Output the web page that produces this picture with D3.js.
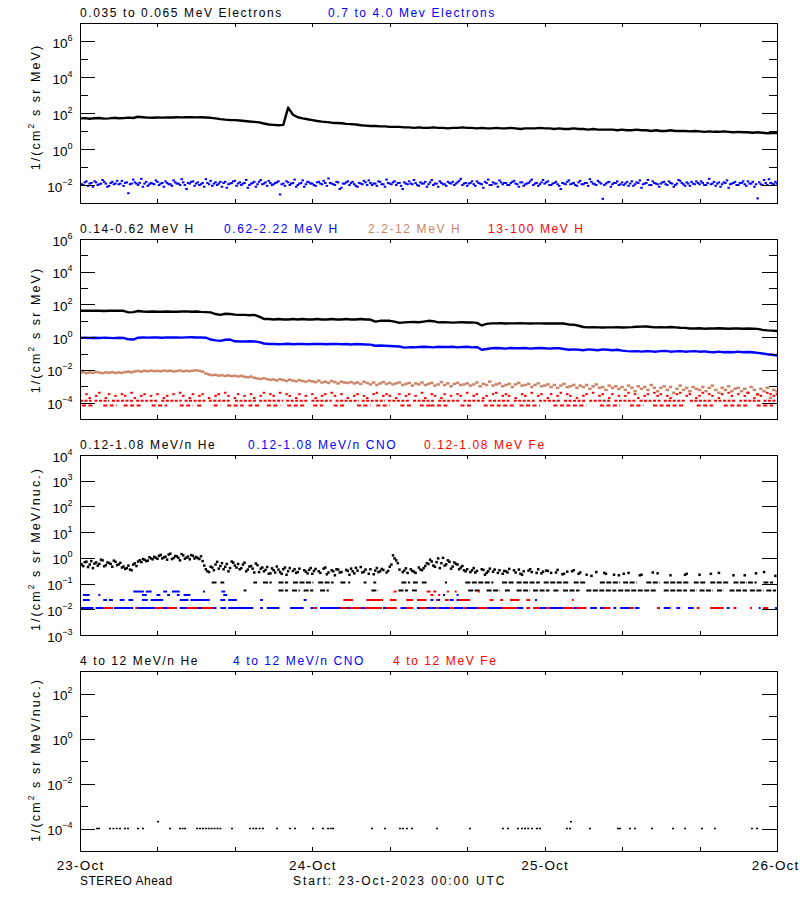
<!DOCTYPE html>
<html><head><meta charset="utf-8">
<script src="https://cdn.jsdelivr.net/npm/d3@7"></script>
<style>body{margin:0;background:#fff} text{font-family:"Liberation Sans",Arial,sans-serif}</style>
</head><body><svg id="c" width="800" height="900"></svg>
<script>
// ---------------- DATA ----------------
const dayHours = [0,24,48,72];
const dayLabels = ["23-Oct","24-Oct","25-Oct","26-Oct"];
const tickHours = [0,8,16,24,32,40,48,56,64,72];

// Panel 1: electrons (samples evenly spaced over 72 h)
const elecLow = [50,52,48,51,53,49,50,54,51,52,55,53,
62,58,55,54,56,55,57,56,58,57,59,58,57,58,56,
54,50,46,43,41,40,38,36,34,32,30,26,23,22,21,22,
200,80,58,50,45,40,36,33,31,29,28,27,25,24,23,21,20,19,19,18,18,17,17,
17,16,16,15,16,15,15,16,15,15,14,15,15,16,15,
15,14,15,14,14,15,14,14,15,14,13,14,14,14,15,14,
14,13,14,13,13,14,13,13,12,13,12,12,
12,12,11,12,11,11,12,11,11,10,11,10,10,11,
10,10,10,9.5,10,9.5,9,9.5,9,9,9.5,9,8.5,9,
8.5,8.5,8,8.5,8,7.5,7.8,7.6];
const elecHigh = [
0.013,0.010,0.016,0.012,0.008,0.014,0.011,0.019,0.012,0.009,0.015,0.012,
0.011,0.017,0.013,0.0035,0.012,0.014,0.010,0.022,0.012,0.009,0.013,0.011,
0.015,0.012,0.008,0.013,0.011,0.018,0.012,0.010,0.014,0.006,0.012,0.016,
0.012,0.010,0.013,0.021,0.011,0.009,0.014,0.012,0.008,0.015,0.011,0.013,
0.017,0.012,0.010,0.013,0.007,0.012,0.015,0.011,0.019,0.012,0.009,0.013,
0.011,0.014,0.003,0.012,0.016,0.010,0.013,0.008,0.012,0.018,0.011,0.014,
0.012,0.009,0.015,0.011,0.013,0.023,0.012,0.010,0.014,0.007,0.012,0.016,
0.013,0.011,0.008,0.012,0.017,0.010,0.013,0.012,0.009,0.015,0.011,0.020,
0.012,0.014,0.010,0.013,0.006,0.012,0.016,0.011,0.013,0.009,0.012,0.015,
0.011,0.019,0.012,0.008,0.013,0.011,0.015,0.012,0.010,0.014,0.022,0.012,
0.009,0.013,0.011,0.016,0.012,0.007,0.013,0.010,0.014,0.012,0.018,0.011,
0.013,0.010,0.015,0.012,0.008,0.014,0.011,0.013,0.020,0.012,0.009,0.014,
0.012,0.016,0.010,0.013,0.011,0.006,0.012,0.015,0.011,0.013,0.009,0.017,
0.011,0.013,0.021,0.012,0.010,0.014,0.0017,0.012,0.015,0.011,0.013,0.010,
0.014,0.012,0.009,0.016,0.011,0.013,0.007,0.012,0.019,0.010,0.013,0.011,
0.012,0.015,0.010,0.013,0.008,0.012,0.017,0.011,0.014,0.009,0.012,0.016,
0.011,0.013,0.010,0.022,0.012,0.009,0.014,0.011,0.013,0.007,0.012,0.015,
0.010,0.013,0.011,0.016,0.012,0.008,0.0018,0.011,0.019,0.010,0.013,0.011,
0.012];
// second set of electron samples, 10 min after the first set
const elecHighB = [
0.011,0.014,0.009,0.013,0.016,0.010,0.012,0.015,0.008,0.013,0.011,0.017,
0.012,0.009,0.014,0.011,0.020,0.012,0.013,0.008,0.015,0.011,0.012,0.018,
0.010,0.013,0.016,0.011,0.009,0.014,0.012,0.021,0.010,0.013,0.015,0.009,
0.014,0.011,0.008,0.013,0.017,0.012,0.010,0.015,0.013,0.007,0.012,0.016,
0.009,0.014,0.012,0.019,0.010,0.013,0.008,0.015,0.011,0.014,0.017,0.010,
0.013,0.016,0.011,0.009,0.014,0.012,0.020,0.010,0.013,0.008,0.015,0.012,
0.010,0.014,0.012,0.017,0.009,0.013,0.011,0.015,0.006,0.012,0.014,0.010,
0.015,0.009,0.013,0.011,0.014,0.018,0.010,0.012,0.016,0.011,0.008,0.013,
0.011,0.016,0.013,0.009,0.014,0.011,0.012,0.019,0.010,0.014,0.012,0.008,
0.014,0.010,0.012,0.016,0.011,0.009,0.013,0.015,0.012,0.017,0.010,0.013,
0.012,0.016,0.009,0.013,0.011,0.015,0.020,0.010,0.012,0.008,0.014,0.013,
0.010,0.013,0.017,0.011,0.014,0.009,0.012,0.016,0.010,0.013,0.011,0.019,
0.014,0.010,0.012,0.015,0.009,0.013,0.011,0.018,0.012,0.010,0.014,0.011,
0.013,0.009,0.015,0.011,0.017,0.012,0.010,0.014,0.008,0.013,0.016,0.011,
0.010,0.015,0.012,0.009,0.014,0.018,0.011,0.013,0.010,0.016,0.012,0.008,
0.014,0.011,0.016,0.012,0.010,0.019,0.013,0.009,0.012,0.015,0.011,0.013,
0.016,0.010,0.013,0.011,0.015,0.012,0.008,0.014,0.018,0.011,0.013,0.010,
0.013,0.016,0.009,0.012,0.015,0.011,0.014,0.010,0.013,0.021,0.012,0.015,
0.011];

// Panel 2: protons
const hLow = [41,42,41,42,41,40,41,42,41,41,33,34,40,
37,36,37,36,36,37,36,36,37,38,36,
37,35,34,33,26,23,27,26,24,23,23,22,23,18,13,
13,12,13,12,12,13,12,13,12,12,13,12,12,13,12,12,13,12,12,13,12,12,
9,10,10,10,9,7.5,8,8.3,8.4,8.2,9,10,9.5,
8,8.2,8,7.8,8,8.1,7.9,8,7.5,5.2,6.5,
7,7,7.1,6.9,7,7,7.1,7,6.9,7,7,6.9,7,6.8,7,6.8,
6,5.8,5,4.2,4,4.1,4,3.9,4,4,4.1,3.9,4,4.1,4.3,4.4,4.5,
4.2,4,4.1,4,4.2,4,3.8,3.7,
3.4,3.4,3.5,3.3,3.4,3.4,3.5,3.4,3.3,3.4,3.4,3.3,3.4,3.3,3.2,
2.8,2.6,2.5,2.4];
const hMid = [0.91,0.93,0.89,0.92,0.90,0.94,0.91,0.88,0.92,0.90,0.74,0.72,
0.93,0.96,0.94,0.97,0.95,0.93,0.98,0.95,0.96,0.94,0.97,0.99,0.95,0.96,0.93,
0.72,0.64,0.60,0.70,0.72,0.56,0.55,0.54,0.56,0.55,0.50,0.41,
0.38,0.39,0.37,0.38,0.40,0.37,0.38,0.39,0.37,0.38,0.39,0.38,0.37,0.38,0.39,0.37,0.38,0.36,0.38,0.37,0.36,0.35,
0.30,0.31,0.30,0.29,0.28,0.27,0.23,0.24,0.24,
0.25,0.26,0.25,0.24,0.26,0.25,0.25,0.26,0.24,0.25,0.26,0.24,0.25,0.17,0.19,
0.21,0.22,0.21,0.20,0.22,0.21,0.21,0.22,0.20,0.21,0.22,0.21,0.20,0.21,0.21,
0.19,0.17,0.18,0.17,0.16,0.18,0.17,0.16,0.18,0.17,0.16,0.17,0.15,0.14,
0.135,0.14,0.13,0.14,0.135,0.13,0.14,0.145,0.13,0.135,0.14,0.13,0.135,0.14,0.13,0.135,
0.125,0.12,0.13,0.12,0.125,0.12,0.13,0.12,0.125,0.12,
0.11,0.10,0.09,0.085,0.076];
const hHigh = [
0.0068,0.0072,0.0064,0.0070,0.0066,0.0075,0.0069,0.0063,0.0071,0.0067,0.0073,0.0065,
0.0070,0.0066,0.0074,0.0078,0.0072,0.0081,0.0086,0.0079,0.0088,0.0083,0.0090,0.0084,
0.0087,0.0082,0.0091,0.0085,0.0089,0.0080,0.0086,0.0092,0.0083,0.0088,0.0084,0.0090,
0.0095,0.0088,0.0078,0.0060,0.0052,0.0048,0.0050,0.0045,0.0047,0.0043,0.0046,0.0042,
0.0044,0.0040,0.0043,0.0038,0.0036,0.0039,0.0033,0.0030,0.0028,0.0031,0.0027,0.0025,
0.0026,0.0023,0.0027,0.0024,0.0021,0.0025,0.0022,0.0020,0.0024,0.0021,0.0019,0.0022,
0.0020,0.0018,0.0022,0.0017,0.0019,0.0016,0.0021,0.0018,0.0015,0.0019,0.0017,0.0016,
0.0018,0.0015,0.0017,0.0014,0.0019,0.0016,0.0013,0.0017,0.0012,0.0015,0.0018,0.0014,
0.0016,0.0013,0.0015,0.0017,0.0012,0.0014,0.0016,0.0011,0.0015,0.0013,0.0017,0.0012,
0.0014,0.0016,0.0011,0.0013,0.0018,0.0012,0.0015,0.0010,0.0014,0.0016,0.0012,0.0013,
0.0015,0.0011,0.0013,0.0017,0.0010,0.0014,0.0012,0.0019,0.0011,0.0013,0.0015,0.0010,
0.0012,0.0014,0.0009,0.0013,0.0016,0.0011,0.0012,0.0014,0.0009,0.0012,0.0015,0.0010,
0.0011,0.0013,0.0009,0.0012,0.0008,0.0011,0.0014,0.0009,0.0010,0.0012,0.0008,0.0011,
0.0009,0.0012,0.0007,0.0010,0.0013,0.0008,0.0009,0.0006,0.0011,0.0008,0.0010,0.0007,
0.0009,0.0006,0.0011,0.0008,0.0005,0.0010,0.0007,0.0009,0.0006,0.0012,0.0008,0.0005,
0.0008,0.0010,0.0006,0.0009,0.0004,0.0007,0.0011,0.0006,0.0008,0.0005,0.0009,0.0007,
0.0006,0.0009,0.0005,0.0008,0.0011,0.0006,0.0004,0.0008,0.0006,0.0010,0.0005,0.0007,
0.0008,0.0005,0.0007,0.0004,0.0009,0.0006,0.0003,0.0007,0.0005,0.0008,0.0002,0.0006,
0.0005];
// 13-100 MeV H: count-quantized levels
const hTopLevelA = 1.3e-4, hTopLevelB = 6.6e-5;
const hTopRowA = [[0,1.2],[1.5,3.0],[3.3,5.5],[5.8,8.0],[8.4,10.5],[10.8,13.0],[13.3,15.6],[16.0,18.2],[18.5,21.0],[21.3,23.5],[23.9,26.0],[26.4,28.8],[29.1,31.5],[31.8,34.0],[34.4,36.6],[37.0,39.3],[39.6,41.8],[42.2,44.5],[44.8,47.0],[47.4,49.6],[50.0,52.3],[52.6,54.8],[55.2,57.4],[57.8,60.0],[60.3,62.6],[63.0,65.2],[65.5,67.8],[68.1,70.3],[70.6,72]];
const hTopRowB = [[0.2,1.4],[2.4,3.8],[4.5,6.5],[7.4,9.0],[10.3,11.7],[12.1,12.7],[13.8,14.5],[15.2,16.9],[17.4,18.6],[19.3,20.7],[21.4,23.4],[24.1,25.1],[26.2,27.5],[28.6,30.0],[30.6,32.0],[33.1,34.4],[35.1,36.2],[36.2,38.2],[39.3,40.6],[41.7,44.8],[45.4,47.5],[48.9,52.3],[53.7,55.8],[56.8,58.2],[59.2,62.3],[63.7,65.4],[66.5,69.2],[69.9,71.6]];
const hTopScatter = [
2.6e-4,0,3.3e-4,1.9e-4,0,2.6e-4,4.0e-4,0,1.9e-4,3.3e-4,0,2.6e-4,
0,3.3e-4,2.6e-4,0,4.0e-4,1.9e-4,0,2.6e-4,3.3e-4,0,2.6e-4,0,
3.3e-4,0,1.9e-4,2.6e-4,0,3.3e-4,0,4.0e-4,2.6e-4,0,1.9e-4,3.3e-4,
0,2.6e-4,3.3e-4,0,1.9e-4,0,2.6e-4,3.3e-4,0,4.0e-4,2.6e-4,0,
1.9e-4,3.3e-4,0,2.6e-4,0,3.3e-4,1.9e-4,0,2.6e-4,4.0e-4,0,3.3e-4,
2.6e-4,0,4.0e-4,0,3.3e-4,2.6e-4,0,1.9e-4,3.3e-4,0,2.6e-4,0,
3.3e-4,1.9e-4,0,2.6e-4,3.3e-4,0,4.0e-4,2.6e-4,0,3.3e-4,0,1.9e-4,
0,2.6e-4,3.3e-4,0,2.6e-4,1.9e-4,0,3.3e-4,4.0e-4,0,2.6e-4,3.3e-4,
2.6e-4,0,1.9e-4,3.3e-4,0,2.6e-4,3.3e-4,0,2.6e-4,0,4.0e-4,1.9e-4,
0,3.3e-4,2.6e-4,0,1.9e-4,3.3e-4,0,2.6e-4,0,3.3e-4,2.6e-4,0,
4.0e-4,0,2.6e-4,3.3e-4,0,1.9e-4,2.6e-4,0,3.3e-4,4.0e-4,0,2.6e-4,
3.3e-4,2.6e-4,0,1.9e-4,0,3.3e-4,2.6e-4,0,4.0e-4,0,2.6e-4,3.3e-4,
0,1.9e-4,3.3e-4,0,2.6e-4,4.0e-4,0,3.3e-4,2.6e-4,0,1.9e-4,0,
2.6e-4,3.3e-4,0,4.0e-4,0,2.6e-4,3.3e-4,0,1.9e-4,3.3e-4,0,2.6e-4,
0,2.6e-4,4.0e-4,0,3.3e-4,1.9e-4,0,2.6e-4,3.3e-4,0,4.0e-4,2.6e-4,
3.3e-4,0,2.6e-4,1.9e-4,0,3.3e-4,4.0e-4,0,2.6e-4,3.3e-4,0,1.9e-4,
2.6e-4,4.0e-4,0,3.3e-4,2.6e-4,0,1.9e-4,3.3e-4,0,4.0e-4,2.6e-4,0,
3.3e-4,0,2.6e-4,4.0e-4,0,1.9e-4,3.3e-4,2.6e-4,0,4.0e-4,3.3e-4,2.6e-4,
3.3e-4];

// Panel 3: 0.12-1.08 MeV/n ions
const heScatter = [
0.62,0.48,0.71,0.55,0.40,0.66,0.58,0.80,0.52,0.63,0.45,0.70,
0.56,0.42,0.37,0.50,0.33,0.61,0.72,0.68,0.85,0.78,0.95,1.10,
0.92,1.30,1.05,0.85,1.45,0.98,1.15,0.80,1.25,1.02,0.88,1.20,
1.08,0.90,0.75,0.36,0.28,0.42,0.55,0.38,0.62,0.45,0.30,0.72,
0.50,0.58,0.40,0.65,0.35,0.48,0.27,0.52,0.38,0.30,0.44,0.25,
0.33,0.46,0.28,0.36,0.22,0.40,0.31,0.26,0.38,0,0.29,0.34,
0.24,0.37,0.30,0,0.42,0.27,0.33,0.21,0.35,0.28,0,0.31,
0.38,0.25,0.32,0.44,0.29,0,0.36,0.23,0.40,0.30,0.34,0.27,
0.45,1.25,0.80,0.35,0.28,0.39,0,0.31,0.26,0.42,0.33,0.48,
0.58,0.72,0.45,0.95,0.62,0.50,0.80,0.38,0.66,0.55,0.42,0.33,
0.36,0.28,0.40,0.31,0,0.34,0.26,0.38,0.29,0,0.33,0.24,
0.30,0.37,0,0.27,0.35,0.22,0,0.32,0.28,0,0.36,0.25,
0,0.31,0.26,0,0.34,0,0.24,0.29,0,0.33,0,0.27,
0,0.22,0,0,0.28,0,0,0.24,0,0,0,0.21,
0,0,0.26,0,0,0,0.22,0,0,0,0,0.25,
0,0,0,0.21,0,0,0,0,0.24,0,0,0,
0.22,0,0,0,0,0,0.26,0,0,0,0,0,
0,0,0.21,0,0,0,0,0,0.28,0,0,0,
0];
// second set of He samples, 10 min after the first set
const heScatterB = [
0.55,0.68,0.44,0.75,0.60,0.50,0.85,0.47,0.66,0.58,0.78,0.52,
0.64,0.46,0.40,0.35,0.55,0.48,0.80,0.90,0.75,1.05,0.88,1.00,
1.20,0.95,1.10,1.35,0.90,1.18,1.00,1.40,0.92,1.12,1.28,0.95,
0.98,1.15,0.50,0.30,0.45,0.33,0.70,0.48,0.36,0.58,0.40,0.65,
0.42,0.36,0.55,0.30,0.46,0.38,0.60,0.28,0.42,0.34,0.24,0.39,
0.27,0.35,0.24,0.42,0.30,0,0.36,0.28,0,0.33,0.25,0.40,
0.31,0,0.26,0.38,0.23,0,0.30,0.36,0.27,0,0.34,0.22,
0.30,0.41,0,0.27,0.35,0.24,0,0.32,0.28,0.37,0,0.31,
0.55,0.95,0.62,0,0.32,0.26,0.36,0.29,0,0.35,0.40,0.62,
0.85,0.50,0.68,0.40,1.00,0.56,0.70,0.46,0.58,0.36,0.48,0.30,
0,0.33,0.27,0,0.36,0.22,0.30,0,0.35,0.26,0,0.31,
0.27,0,0.33,0,0.24,0.30,0,0.36,0,0.26,0,0.29,
0.32,0,0,0.27,0,0.23,0,0,0.30,0,0.24,0,
0,0,0.20,0,0,0,0.26,0,0,0.22,0,0,
0.24,0,0,0,0,0.21,0,0,0,0.27,0,0,
0,0,0,0,0,0,0,0.22,0,0,0,0,
0,0,0,0.24,0,0,0,0,0,0,0.21,0,
0,0,0,0,0,0.25,0,0,0,0,0,0.20,
0];
const heLevel1 = 0.054, heLevel2 = 0.11;
const heRow1 = [[16.9,17.2],[20.5,21.5],[21.9,22.7],[23.1,24.1],[24.8,25.7],[30.1,30.8],[32.9,33.9],[34.3,34.8],[40.1,41.3],[42.0,43.4],[43.9,44.4],[45.1,46.5],[46.8,48.5],[48.9,49.6],[49.9,51.6],[52.3,55.4],[55.6,59.6],[60.3,62.7],[63.0,63.7],[64.0,65.4],[65.8,66.5],[67.1,68.9],[69.2,70.6],[70.9,71.9]];
const heRow2 = [[13.6,14.1],[14.5,14.9],[17.9,18.3],[18.9,19.8],[20.5,21.5],[22.0,24.1],[24.6,26.2],[26.9,27.5],[27.7,27.9],[29.3,29.6],[30.3,30.6],[33.2,34.1],[34.4,34.9],[35.3,35.8],[37.7,37.9],[39.8,42.7],[43.6,44.8],[45.1,47.5],[47.9,50.6],[51.0,52.3],[53.7,55.8],[56.1,57.5],[58.5,59.9],[60.3,63.0],[63.4,64.7],[65.1,67.1],[67.5,68.9],[69.0,69.9],[70.6,71.6]];
const ionLevels = [0.0112, 0.023, 0.036, 0.049];
const cnoLow = [[0,1.4],[1.6,3.4],[3.5,5.5],[5.9,7.8],[8.3,10.0],[10.3,13.0],[13.6,14.1],[14.5,15.1],[15.3,17.9],[18.6,18.9],[19.3,20.6],[21.7,23.1],[23.8,24.1],[24.8,27.2],[27.5,29.6],[30.0,31.0],[31.3,32.7],[33.1,34.4],[34.8,36.2],[36.2,36.8],[37.0,38.2],[38.6,39.6],[39.9,41.1],[42.0,44.4],[45.1,45.8],[47.5,48.2],[48.5,49.9],[51.0,52.3],[52.7,53.4],[53.7,54.4],[55.1,55.4],[55.8,56.8],[57.3,57.8],[59.6,59.9],[60.3,61.0],[61.6,62.0],[62.8,63.4],[65.2,65.8],[66.8,67.1],[70.1,70.3],[70.6,70.9],[71.8,72]];
const cnoMid = [[0.3,1.0],[2.4,2.8],[3.0,3.4],[4.1,4.6],[5.0,5.5],[6.4,7.0],[7.3,8.6],[10.3,11.2],[11.4,13.4],[14.5,15.0],[15.3,16.2],[18.6,18.9],[23.1,23.4],[29.6,29.9],[31.0,31.3],[34.1,34.4],[36.2,36.5],[36.8,37.2],[38.2,38.6],[38.9,39.3],[42.4,42.6],[47.0,47.2]];
const cnoUpper = [[0.3,1.0],[1.9,2.1],[6.4,6.9],[7.9,8.3],[9.0,9.3],[10.0,10.3],[10.7,11.4],[14.8,15.2],[37.5,37.7],[38.9,39.0]];
const cnoTop = [[5.5,6.6],[6.8,7.4],[8.6,9.0],[9.5,10.3],[12.7,12.9],[14.6,15.0]];
const feLow = [[2.4,3.4],[5.7,5.9],[7.8,8.6],[9.0,10.0],[11.0,12.2],[12.6,13.8],[24.1,24.5],[26.9,27.6],[27.9,29.0],[29.4,31.2],[31.6,32.7],[33.7,34.4],[35.1,35.8],[36.8,37.0],[38.2,38.6],[39.6,39.9],[41.0,42.0],[43.6,45.1],[46.1,46.5],[46.8,47.5],[48.2,48.5],[49.9,51.0],[51.3,52.3],[54.1,54.8],[56.8,57.2],[59.6,59.9],[63.7,64.0],[65.1,66.5],[67.5,67.8],[69.2,69.4],[70.6,71.1]];
const feMid = [[27.2,28.2],[29.6,31.3],[32.0,32.7],[33.7,34.4],[34.8,35.8],[36.8,37.0],[37.7,38.1],[39.1,40.3],[42.3,42.7],[43.4,43.7],[44.4,45.4],[46.1,46.5],[50.8,51.0]];
const feUpper = [[36.2,36.5],[37.0,37.1]];
const feTop = [[32.4,32.7],[35.8,36.2],[36.5,36.8],[37.9,38.0],[38.7,38.9],[41.1,41.2]];

// Panel 4: 4-12 MeV/n He (isolated counts)
const he4Hours = [1.76,1.96,3.1,3.45,3.8,4.13,4.65,4.96,5.99,6.51,8.06,9.3,10.33,10.6,10.85,12.1,12.4,12.7,13.0,13.3,13.6,13.9,14.2,14.5,15.7,17.56,17.9,18.2,18.55,18.9,20.35,21.69,22.21,24.07,25.1,25.62,25.9,26.13,30.16,31.5,33.05,33.36,33.78,34.29,36.88,40.28,43.69,44.21,45.24,45.66,45.97,46.3,46.69,47.21,47.52,50.3,50.62,50.72,52.68,55.57,55.78,56.81,57.33,59.09,61.26,62.5,64.25,65.59,69.41,69.93];
const he4Flux = [1e-4,1e-4,1e-4,1e-4,1e-4,1e-4,1e-4,1e-4,1e-4,1e-4,2e-4,1e-4,1e-4,1e-4,1e-4,1e-4,1e-4,1e-4,1e-4,1e-4,1e-4,1e-4,1e-4,1e-4,1e-4,1e-4,1e-4,1e-4,1e-4,1e-4,1e-4,1e-4,1e-4,1e-4,1e-4,1e-4,1e-4,1e-4,1e-4,1e-4,1e-4,1e-4,1e-4,1e-4,1e-4,1e-4,1e-4,1e-4,1e-4,1e-4,1e-4,1e-4,1e-4,1e-4,1e-4,1e-4,1e-4,2e-4,1e-4,1e-4,1e-4,1e-4,1e-4,1e-4,1e-4,1e-4,1e-4,1e-4,1e-4,1e-4];

// Titles
const titles1 = ["0.035 to 0.065 MeV Electrons","0.7 to 4.0 Mev Electrons"];
const titles2 = ["0.14-0.62 MeV H","0.62-2.22 MeV H","2.2-12 MeV H","13-100 MeV H"];
const titles3 = ["0.12-1.08 MeV/n He","0.12-1.08 MeV/n CNO","0.12-1.08 MeV Fe"];
const titles4 = ["4 to 12 MeV/n He","4 to 12 MeV/n CNO","4 to 12 MeV Fe"];

// ---------------- LAYOUT ----------------
const TAN = "rgb(205,133,104)";
const L = 80, R = 777, H = 180;
const svg = d3.select("#c");
const x = d3.scaleLinear().domain([0,72]).range([L,R]);
const series = (arr, offset=0) => arr.map((v,i)=>[i*72/(arr.length-1)+offset, v]);

const panels = [
 {top:23, dom:[1e-3,1e7], majors:[1e6,1e4,1e2,1,1e-2], minors:[1e5,1e3,1e1,1e-1], tail:" s sr MeV)", ty:107,
  titles:titles1, tx:[80,328], colors:["#000","#00f"]},
 {top:239, dom:[1e-5,1e6], majors:[1e6,1e4,1e2,1,1e-2,1e-4], minors:[1e5,1e3,1e1,1e-1,1e-3], tail:" s sr MeV)", ty:330,
  titles:titles2, tx:[80,224,368,488], colors:["#000","#00f",TAN,"#f00"]},
 {top:455, dom:[1e-3,1e4], majors:[1e4,1e3,1e2,1e1,1,1e-1,1e-2,1e-3], minors:[], tail:" s sr MeV/nuc.)", ty:549,
  titles:titles3, tx:[80,248,424], colors:["#000","#00f","#f00"]},
 {top:671, dom:[1e-5,1e3], majors:[1e2,1,1e-2,1e-4], minors:[1e1,1e-1,1e-3], tail:" s sr MeV/nuc.)", ty:760,
  titles:titles4, tx:[80,233,393], colors:["#000","#00f","#f00"]}
];

panels.forEach((p,pi)=>{
  const y = d3.scaleLog().domain(p.dom).range([p.top+H, p.top]);
  p.y = y;
  const g = svg.append("g");
  p.titles.forEach((t,i)=>{
    g.append("text").attr("x",p.tx[i]).attr("y",p.top-6).attr("font-size",12).attr("letter-spacing",1.6)
     .attr("fill",p.colors[i]).text(t);
  });
  const yt = g.append("text").attr("transform",`translate(40,${p.ty}) rotate(-90)`).attr("text-anchor","middle")
     .attr("font-size",12.5).attr("letter-spacing",2.1);
  yt.append("tspan").text("1/(cm");
  yt.append("tspan").attr("dy",-6).attr("font-size",8.5).text("2");
  yt.append("tspan").attr("dy",6).text(p.tail);

  const cid = "clip"+pi;
  svg.append("clipPath").attr("id",cid).append("rect").attr("x",L).attr("y",p.top).attr("width",R-L).attr("height",H);
  p.plot = svg.append("g").attr("clip-path",`url(#${cid})`);

  const ax = svg.append("g").attr("shape-rendering","crispEdges");
  const strip = s => s.call(a=>a.select(".domain").remove()).attr("font-family",null).attr("font-size",null);
  ax.append("g").attr("transform",`translate(${L},0)`)
    .call(d3.axisLeft(y).tickValues(p.majors).tickSize(-15).tickPadding(7.5)).call(strip)
    .call(s=>s.selectAll(".tick text").each(function(d){
        const e = Math.round(Math.log10(d));
        const t = d3.select(this).text(null).attr("dy","0.45em").attr("font-size",13.5).attr("fill","#000");
        t.append("tspan").text("10");
        t.append("tspan").attr("dy",-7).attr("font-size",9).text(e<0 ? "\u2212"+(-e) : String(e));
    }));
  ax.append("g").attr("transform",`translate(${L},0)`)
    .call(d3.axisLeft(y).tickValues(p.minors).tickSize(-8).tickFormat("")).call(strip);
  ax.append("g").attr("transform",`translate(${R},0)`)
    .call(d3.axisRight(y).tickValues(p.majors).tickSize(-15).tickFormat("")).call(strip);
  ax.append("g").attr("transform",`translate(${R},0)`)
    .call(d3.axisRight(y).tickValues(p.minors).tickSize(-8).tickFormat("")).call(strip);
  ax.append("g").attr("transform",`translate(0,${p.top+H})`)
    .call(d3.axisBottom(x).tickValues(tickHours).tickSize(-4).tickFormat("")).call(strip);
  ax.append("g").attr("transform",`translate(0,${p.top})`)
    .call(d3.axisTop(x).tickValues(tickHours).tickSize(-4).tickFormat("")).call(strip);
  ax.selectAll("line").attr("stroke","#000");
  ax.append("rect").attr("x",L+0.5).attr("y",p.top+0.5).attr("width",R-L).attr("height",H)
    .attr("fill","none").attr("stroke","#000");
});

function drawLine(p, arr, color, w){
  p.plot.append("path").datum(series(arr)).attr("fill","none").attr("stroke",color).attr("stroke-width",w)
    .attr("stroke-linejoin","round").attr("d", d3.line().x(d=>x(d[0])).y(d=>p.y(d[1])));
}
function drawDots(p, pts, color, w, h){
  p.plot.append("g").selectAll("rect").data(pts.filter(d=>d[1]>0)).join("rect")
    .attr("x",d=>x(d[0])-w/2).attr("y",d=>p.y(d[1])-h/2).attr("width",w).attr("height",h).attr("fill",color);
}
function drawSpans(p, spans, level, color, h, dash){
  p.plot.append("g").selectAll("line").data(spans).join("line")
    .attr("x1",d=>x(d[0])).attr("x2",d=>Math.max(x(d[0])+2, x(d[1])))
    .attr("y1",p.y(level)).attr("y2",p.y(level))
    .attr("stroke",color).attr("stroke-width",h).attr("stroke-dasharray",dash||null);
}

const [p1,p2,p3,p4] = panels;
// Panel 1
drawLine(p1, elecLow, "#000", 2.4);
drawDots(p1, series(elecHigh), "#00f", 2.5, 2);
drawDots(p1, series(elecHighB, 1/6), "#00f", 2.5, 2);
// Panel 2
drawLine(p2, hLow, "#000", 2.4);
drawLine(p2, hMid, "#00f", 2.4);
drawDots(p2, series(hHigh), TAN, 3.5, 2.5);
drawSpans(p2, hTopRowA, hTopLevelA, "#f00", 2, "3,1.5");
drawSpans(p2, hTopRowB, hTopLevelB, "#f00", 2, "4,2.5");
drawDots(p2, series(hTopScatter), "#f00", 2.5, 2);
// Panel 3
drawDots(p3, series(heScatter), "#000", 2.5, 2.5);
drawDots(p3, series(heScatterB, 1/6), "#000", 2.5, 2.5);
drawSpans(p3, heRow1, heLevel1, "#000", 2, "5,1.5");
drawSpans(p3, heRow2, heLevel2, "#000", 2, "5,1.5");
drawSpans(p3, cnoLow, ionLevels[0], "#00f", 2);
drawSpans(p3, cnoMid, ionLevels[1], "#00f", 2);
drawSpans(p3, cnoUpper, ionLevels[2], "#00f", 2);
drawSpans(p3, cnoTop, ionLevels[3], "#00f", 2);
drawSpans(p3, feLow, ionLevels[0], "#f00", 2);
drawSpans(p3, feMid, ionLevels[1], "#f00", 2);
drawSpans(p3, feUpper, ionLevels[2], "#f00", 2);
drawSpans(p3, feTop, ionLevels[3], "#f00", 2);
// Panel 4
drawDots(p4, he4Hours.map((h,i)=>[h,he4Flux[i]]), "#000", 2, 1.5);

// bottom date labels
svg.append("g").attr("transform",`translate(0,${p4.top+H})`)
  .call(d3.axisBottom(x).tickValues(dayHours).tickFormat((d,i)=>dayLabels[i]).tickSize(0).tickPadding(9))
  .call(s=>s.select(".domain").remove())
  .call(s=>s.selectAll("text").attr("font-size",13.5).attr("letter-spacing",1.2).attr("fill","#000"))
  .call(s=>s.selectAll(".tick").filter(d=>d===72).select("text").attr("text-anchor","end").attr("x",22))
  .attr("font-family",null);
svg.append("text").attr("x",80).attr("y",885).attr("font-size",12).attr("letter-spacing",0.5).text("STEREO Ahead");
svg.append("text").attr("x",293).attr("y",885).attr("font-size",12).attr("letter-spacing",1.9).text("Start: 23-Oct-2023 00:00 UTC");
</script></body></html>
